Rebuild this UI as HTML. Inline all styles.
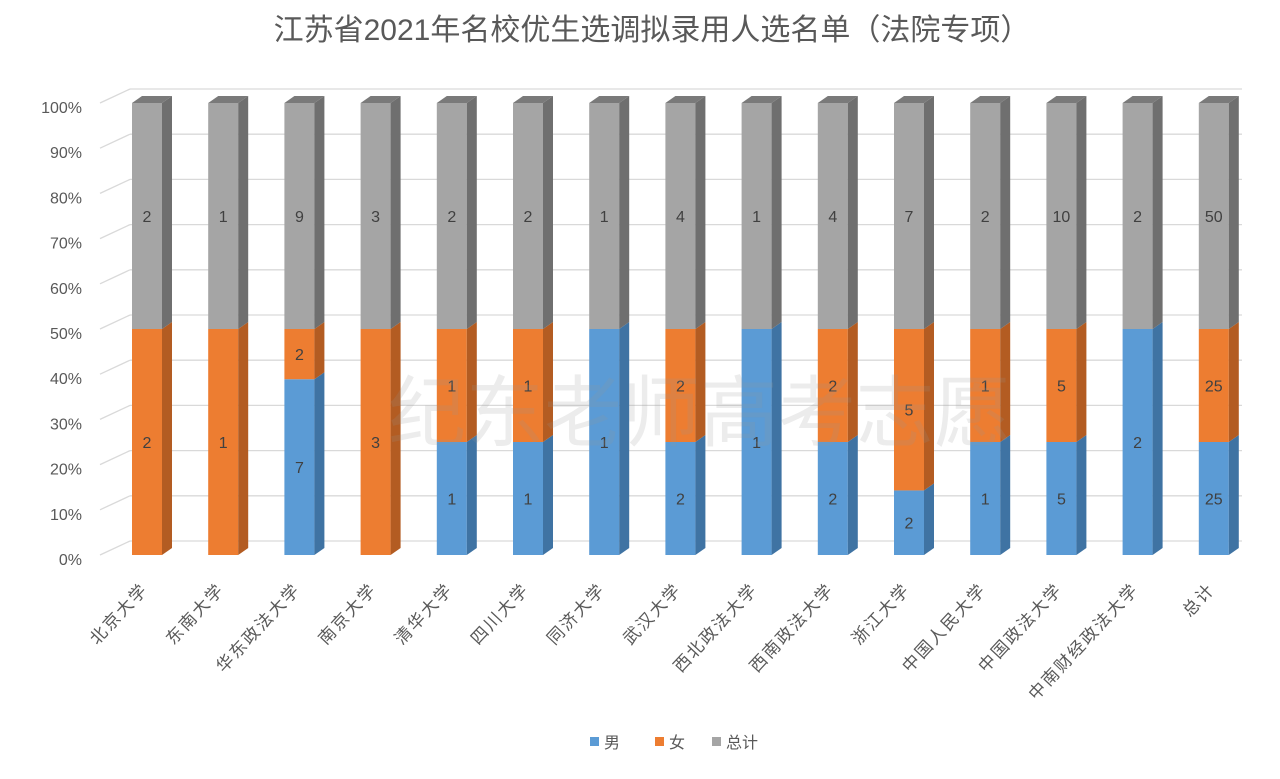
<!DOCTYPE html>
<html><head><meta charset="utf-8"><style>
body{margin:0;background:#fff;width:1280px;height:774px;overflow:hidden}
svg text{font-family:"Liberation Sans","Noto Sans CJK SC",sans-serif}
</style></head><body>
<svg id="s" width="1280" height="774" viewBox="0 0 1280 774" xmlns="http://www.w3.org/2000/svg">
<text x="652" y="40" text-anchor="middle" font-size="30" fill="#595959">江苏省2021年名校优生选调拟录用人选名单（法院专项）</text>
</svg>
<script>
const s=document.getElementById('s');const NS='http://www.w3.org/2000/svg';
function el(t,a,txt){const e=document.createElementNS(NS,t);for(const k in a)e.setAttribute(k,a[k]);if(txt!==undefined)e.textContent=txt;s.appendChild(e);return e;}
const y0=555,H=452,dx=10,dy=7;
for(let i=0;i<=10;i++){const y=y0-H*i/10;
 el('line',{x1:130,y1:y-14,x2:1242,y2:y-14,stroke:'#d9d9d9','stroke-width':1.3});
 el('line',{x1:100,y1:y,x2:130,y2:y-14,stroke:'#d9d9d9','stroke-width':1.3});
 el('text',{x:82,y:y+10,'text-anchor':'end','font-size':16,fill:'#595959'},(i*10)+'%');}
const d=[["北京大学",0,2,2],["东南大学",0,1,1],["华东政法大学",7,2,9],["南京大学",0,3,3],["清华大学",1,1,2],["四川大学",1,1,2],["同济大学",1,0,1],["武汉大学",2,2,4],["西北政法大学",1,0,1],["西南政法大学",2,2,4],["浙江大学",2,5,7],["中国人民大学",1,1,2],["中国政法大学",5,5,10],["中南财经政法大学",2,0,2],["总计",25,25,50]];
const cols=[['#5B9BD5','#3F73A3','#4E87BD'],['#ED7D31','#B35C22','#D06A28'],['#A5A5A5','#6F6F6F','#7A7A7A']];
d.forEach((r,i)=>{const cx=147+i*76.2,x=cx-15,w=30;const tot=r[3]*2;const vals=[r[1],r[2],r[3]];
 let acc=0;
 vals.forEach((v,j)=>{if(!v)return;const yb=y0-H*acc/tot;acc+=v;const yt=y0-H*acc/tot;const c=cols[j];
  el('rect',{x:x,y:yt,width:w,height:yb-yt,fill:c[0]});
  el('polygon',{points:`${x+w},${yb} ${x+w+dx},${yb-dy} ${x+w+dx},${yt-dy} ${x+w},${yt}`,fill:c[1]});
  el('text',{x:cx,y:(yt+yb)/2+6,'text-anchor':'middle','font-size':16,fill:'#404040'},v);
 });
 el('polygon',{points:`${x},103 ${x+dx},${103-dy} ${x+w+dx},${103-dy} ${x+w},103`,fill:'#7A7A7A'});
 el('text',{x:cx+2,y:590,'text-anchor':'end','font-size':17,'letter-spacing':2,fill:'#595959',transform:`rotate(-47 ${cx+2} 590)`},r[0]);
});
el('text',{x:700,y:440,'text-anchor':'middle','font-size':78,fill:'rgba(150,150,150,0.18)'},'纪东老师高考志愿');
[['#5B9BD5','男',590],['#ED7D31','女',655],['#A5A5A5','总计',712]].forEach(l=>{
 el('rect',{x:l[2],y:737,width:9,height:9,fill:l[0]});
 el('text',{x:l[2]+14,y:748,'font-size':16,fill:'#595959'},l[1]);});
</script>
</body></html>
